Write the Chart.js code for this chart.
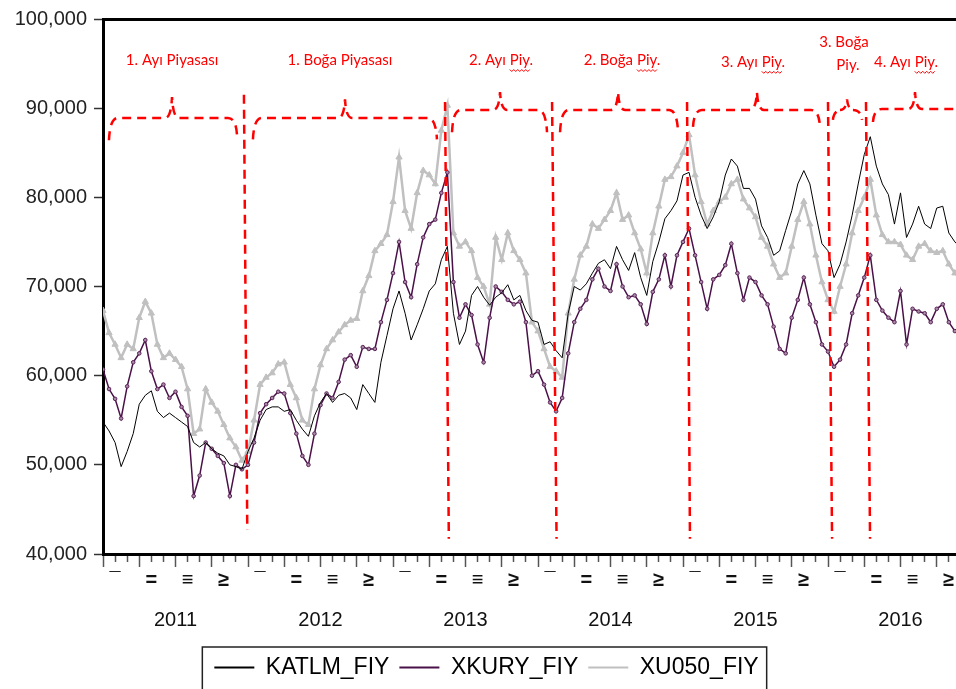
<!DOCTYPE html>
<html>
<head>
<meta charset="utf-8">
<script src="https://cdn.jsdelivr.net/npm/chart.js@4.4.0/dist/chart.umd.min.js"></script>
<style>
  html, body { margin: 0; padding: 0; overflow: hidden; background: #fff; }
  canvas { display: block; }
</style>
</head>
<body>
<canvas id="myChart" width="985" height="700"></canvas>
<script>
// half-monthly readings, 2011-01 .. 2016-12
const katlm = [54800,53800,52500,49800,51500,53500,56800,57800,58300,56000,55300,55800,55300,54800,54300,52500,52000,52500,51800,51300,51000,50000,49800,49500,
  51500,53000,55000,56200,56500,56500,56000,56200,55000,54000,53200,55500,57000,58000,57000,57800,58000,57500,56200,59000,58000,57000,61500,64500,
  67500,69500,67000,64000,65700,67500,69500,70300,73000,74500,67000,63500,65000,69000,70000,68800,67900,68800,69300,70200,68500,69000,67300,66200,
  66000,63500,63800,62800,62000,67000,70000,69600,70300,71500,72600,73000,72000,74500,73000,71800,73800,71000,69000,72800,75000,77600,78500,79600,
  82500,82800,80000,78000,76500,77800,79500,82500,84300,83500,81000,81000,79800,76800,75500,73500,74000,76300,78500,81500,83000,81500,78000,74800,
  74000,71000,72500,75000,78000,81500,84800,86800,83500,81500,80300,77000,80500,75500,77000,79000,77000,76500,78800,79000,76000,75000,74300];

const xkury = [60700,58500,57400,55200,58800,61500,62500,64000,60500,58500,59000,57500,58200,56500,55500,46500,48800,52500,51800,51000,50200,46500,50000,49500,
  50000,52500,55800,56800,57500,58200,58000,55800,53500,51000,50000,53500,56700,58000,57500,59300,61800,62300,61000,63200,63000,63000,66000,68500,
  71500,75000,70500,68800,72500,75500,77000,77500,80500,82800,70500,66500,68000,66800,63500,61500,66500,70000,69400,68500,68000,68300,66000,60000,
  60500,59000,57000,56000,57500,62500,66000,67500,68500,70800,72000,70000,69500,72500,70000,68800,69000,68000,65800,69400,70800,73500,70000,73500,
  75000,76500,73500,70500,67500,70800,71300,72400,74800,71500,68500,71000,70500,69000,68000,65500,63000,62500,66500,68500,71000,68000,66000,63500,
  62700,61000,61800,63500,67000,69000,71000,73500,68500,67300,66500,66000,69500,63500,67500,67200,67000,66000,67500,68000,66000,65000,65200];

const xu050 = [67300,64800,63500,62000,63500,63000,66500,68300,67000,63500,62000,62500,61800,61000,58500,53500,54000,58500,57000,56000,54500,53000,52000,50500,
  51500,55000,59000,59800,60300,61300,61500,59000,57500,55000,54500,58500,61200,63000,64000,64900,65700,66200,66400,69500,71200,74000,74800,75800,
  79500,84500,78500,76500,80500,83000,82500,81500,87500,90300,76000,74500,75000,74000,71000,70000,68000,75500,73000,76000,74000,73000,71500,66000,
  65000,63000,61000,60500,59800,67000,70800,73500,74500,77000,76500,77500,78500,80500,77500,78000,76000,74200,71500,76000,79000,82000,82300,83500,
  85000,87000,82500,79500,77000,78500,79500,80000,81500,82000,79800,78800,77800,75500,74500,72500,71000,71500,74500,77500,79500,77000,73500,70500,
  68500,67200,70000,72500,76000,78500,80000,82000,78000,75800,75000,75000,74700,73500,73000,74500,74800,74000,73800,74000,72500,71500,70800];

const dates = katlm.map((_, i) => 2011 + i / 24);
const years = [2011, 2012, 2013, 2014, 2015, 2016];
const quarterMarks = ["¯", "=", "≡", "≥"];
const monthTicks = Array.from({ length: 73 }, (_, m) => 2011 + m / 12);

// market phase annotations: [top date, bottom date, top value, bottom value]
const phaseLines = [
  [2011.972, 2011.995, 91500, 42700],
  [2013.359, 2013.385, 90700, 41700],
  [2014.097, 2014.128, 90700, 41700],
  [2015.028, 2015.048, 90700, 41700],
  [2016.000, 2016.028, 90700, 41700],
  [2016.262, 2016.290, 90700, 41700]
];
// braces: [start, peak, end, level, top, left end, right end]
const braces = [
  [2011.041, 2011.476, 2011.924, 88900, 91250, 86400, 87000],
  [2012.034, 2012.669, 2013.303, 88900, 91000, 86500, 86500],
  [2013.407, 2013.738, 2014.062, 89800, 91800, 87300, 87300],
  [2014.152, 2014.552, 2014.966, 89800, 91800, 87300, 87300],
  [2015.069, 2015.510, 2015.945, 89800, 91800, 87900, 87900],
  [2016.034, 2016.131, 2016.234, 89800, 91000, 88700, 88700],
  [2016.310, 2016.600, 2016.980, 89900, 91800, 88450, 88450]
];
const phaseLabels = [
  ["1. Ayı Piyasası", 2011.476, 95400],
  ["1. Boğa Piyasası", 2012.634, 95400],
  ["2. Ayı Piy.", 2013.745, 95400],
  ["2. Boğa Piy.", 2014.579, 95400],
  ["3. Ayı Piy.", 2015.483, 95200],
  ["3. Boğa", 2016.110, 97400],
  ["Piy.", 2016.138, 94800],
  ["4. Ayı Piy.", 2016.538, 95200]
];

const phasePlugin = {
  id: "phases",
  afterDatasetsDraw(chart) {
    const { ctx, scales: { x, y } } = chart;
    const px = (v) => x.getPixelForValue(v);
    const py = (v) => y.getPixelForValue(v);
    ctx.save();
    ctx.strokeStyle = "#ff0000";
    ctx.lineWidth = 2.5;
    ctx.setLineDash([9, 6]);
    phaseLines.forEach(([d0, d1, v0, v1]) => {
      ctx.beginPath();
      ctx.moveTo(px(d0), py(v0));
      ctx.lineTo(px(d1), py(v1));
      ctx.stroke();
    });
    braces.forEach(([s, p, e, lv, tv, le, re]) => {
      const x0 = px(s), xp = px(p), x1 = px(e);
      const yl = py(lv), yt = py(tv);
      const r = 9;
      ctx.beginPath();
      ctx.moveTo(x0, py(le));
      ctx.quadraticCurveTo(x0 + 1, yl, x0 + r, yl);
      ctx.lineTo(xp - 7, yl);
      ctx.quadraticCurveTo(xp - 1, yl, xp, yt);
      ctx.quadraticCurveTo(xp + 1, yl, xp + 7, yl);
      ctx.lineTo(x1 - r, yl);
      ctx.quadraticCurveTo(x1 - 1, yl, x1, py(re));
      ctx.stroke();
    });
    ctx.setLineDash([]);
    ctx.fillStyle = "#ff0000";
    ctx.font = "15px Lato";
    ctx.textAlign = "center";
    ctx.textBaseline = "middle";
    phaseLabels.forEach(([t, d, v]) => {
      const cx = px(d), cy = py(v);
      ctx.fillText(t, cx, cy);
      if (t.endsWith(" Piy.")) {
        // spell-check squiggle under "Piy"
        const w = ctx.measureText(t).width;
        const start = cx - w / 2 + ctx.measureText(t.slice(0, t.length - 4)).width;
        const end = start + ctx.measureText("Piy").width;
        ctx.lineWidth = 1;
        ctx.beginPath();
        for (let sx = start, k = 0; sx <= end; sx += 2, k++) {
          ctx.lineTo(sx, cy + 10 + (k % 2 ? 1.5 : -0.5));
        }
        ctx.stroke();
      }
    });
    ctx.restore();
  }
};

const legendFrame = {
  id: "legendFrame",
  afterDraw(chart) {
    const boxes = chart.legend.legendHitBoxes;
    if (!boxes || !boxes.length) return;
    const first = boxes[0], last = boxes[boxes.length - 1];
    const { ctx } = chart;
    ctx.save();
    ctx.strokeStyle = "#222";
    ctx.lineWidth = 1.5;
    ctx.strokeRect(first.left - 12, first.top - 9, last.left + last.width - first.left + 20, 80);
    ctx.restore();
  }
};

Chart.defaults.font.family = "'Liberation Sans', Arial, sans-serif";

const ctx = document.getElementById("myChart").getContext("2d");
new Chart(ctx, {
  type: "line",
  data: {
    datasets: [
      {
        label: "KATLM_FIY",
        data: dates.map((d, i) => ({ x: d, y: katlm[i] })),
        borderColor: "#000000",
        borderWidth: 1,
        pointRadius: 0
      },
      {
        label: "XKURY_FIY",
        data: dates.map((d, i) => ({ x: d, y: xkury[i] })),
        borderColor: "#4a1048",
        borderWidth: 1.5,
        pointStyle: "circle",
        pointRadius: 1.8,
        pointBorderWidth: 1,
        pointBorderColor: "#5b2258",
        pointBackgroundColor: "#a88aa6"
      },
      {
        label: "XU050_FIY",
        data: dates.map((d, i) => ({ x: d, y: xu050[i] })),
        borderColor: "#c0c0c0",
        borderWidth: 2.5,
        pointStyle: "triangle",
        pointRadius: 3.6,
        pointBorderWidth: 1,
        pointBorderColor: "#c0c0c0",
        pointBackgroundColor: "#c0c0c0"
      }
    ]
  },
  options: {
    responsive: false,
    animation: false,
    layout: { padding: { left: 0, right: 12, top: 17, bottom: 11 } },
    elements: { line: { tension: 0 } },
    plugins: {
      tooltip: { enabled: false },
      legend: {
        position: "bottom",
        labels: {
          font: { size: 23 },
          color: "#111",
          boxWidth: 40,
          boxHeight: 2,
          padding: 10,
          generateLabels: (chart) => chart.data.datasets.map((ds, i) => ({
            text: ds.label,
            fillStyle: ds.borderColor,
            strokeStyle: ds.borderColor,
            lineWidth: 0,
            hidden: false,
            datasetIndex: i
          }))
        }
      }
    },
    scales: {
      x: {
        type: "linear",
        min: 2011,
        max: 2017,
        position: "bottom",
        weight: 0,
        afterBuildTicks: (scale) => { scale.ticks = monthTicks.map((v) => ({ value: v })); },
        afterFit: (scale) => { scale.height = 44; },
        ticks: {
          autoSkip: false,
          maxRotation: 0,
          minRotation: 0,
          padding: 1,
          color: "#111",
          font: { size: 20, weight: "bold" },
          callback: (value, index) => (index % 3 === 1 ? quarterMarks[((index - 1) / 3) % 4] : "")
        },
        grid: {
          drawOnChartArea: false,
          drawTicks: true,
          tickLength: 13,
          tickColor: "#555",
          tickWidth: 1.5,
          tickBorderDash: (c) => (c.index % 3 === 0 ? [] : [6, 40])
        },
        border: { color: "#000", width: 3 }
      },
      xYear: {
        type: "linear",
        min: 2011,
        max: 2017,
        position: "bottom",
        weight: 1,
        afterBuildTicks: (scale) => { scale.ticks = years.map((yr) => ({ value: yr + 0.5 })); },
        afterFit: (scale) => { scale.height = 48; },
        ticks: {
          autoSkip: false,
          maxRotation: 0,
          minRotation: 0,
          padding: 10,
          color: "#111",
          font: { size: 20 },
          callback: (value) => String(Math.floor(value))
        },
        grid: { display: false, drawTicks: false },
        border: { display: false }
      },
      xTop: {
        type: "linear",
        min: 2011,
        max: 2017,
        position: "top",
        ticks: { display: false },
        grid: { display: false, drawTicks: false },
        border: { color: "#000", width: 3 }
      },
      y: {
        min: 40000,
        max: 100000,
        position: "left",
        afterFit: (scale) => { scale.width = 103; },
        ticks: {
          stepSize: 10000,
          padding: 7,
          color: "#222",
          font: { size: 20 },
          callback: (value) => value.toLocaleString("en-US")
        },
        grid: { drawOnChartArea: false, tickLength: 9, tickColor: "#333", tickWidth: 1.5 },
        border: { color: "#000", width: 3 }
      }
    }
  },
  plugins: [phasePlugin, legendFrame]
});
</script>
</body>
</html>
